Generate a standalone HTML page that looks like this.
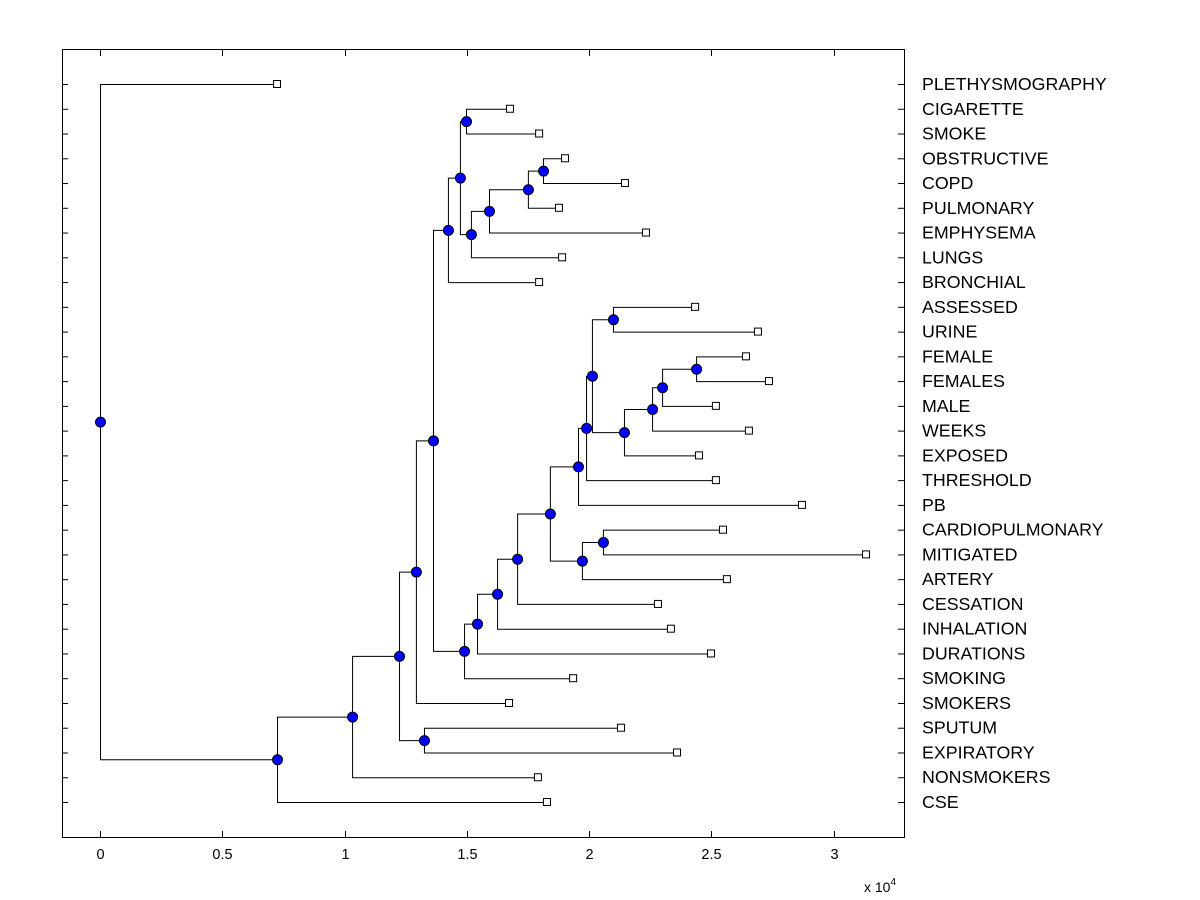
<!DOCTYPE html>
<html><head><meta charset="utf-8"><style>
html,body{margin:0;padding:0;background:#fff;}
svg{display:block;font-family:"Liberation Sans",Arial,sans-serif;}
</style></head><body>
<svg id="chart" width="1200" height="900" viewBox="0 0 1200 900" xmlns="http://www.w3.org/2000/svg">
<rect x="0" y="0" width="1200" height="900" fill="#fff"/>
<g id="links"></g>
<g id="marks"></g>
<rect x="62.5" y="49.5" width="842" height="788" fill="none" stroke="#000" stroke-width="1"/>
<g id="axes"></g>
<text x="864" y="892" font-size="14">x 10<tspan dy="-7" font-size="10">4</tspan></text>
</svg>
<script>
const leafNames = ["PLETHYSMOGRAPHY","CIGARETTE","SMOKE","OBSTRUCTIVE","COPD","PULMONARY","EMPHYSEMA","LUNGS","BRONCHIAL","ASSESSED","URINE","FEMALE","FEMALES","MALE","WEEKS","EXPOSED","THRESHOLD","PB","CARDIOPULMONARY","MITIGATED","ARTERY","CESSATION","INHALATION","DURATIONS","SMOKING","SMOKERS","SPUTUM","EXPIRATORY","NONSMOKERS","CSE"];
const leafValues = [0.724,1.677,1.796,1.902,2.147,1.877,2.233,1.890,1.796,2.434,2.691,2.642,2.736,2.519,2.654,2.450,2.519,2.871,2.548,3.133,2.564,2.282,2.335,2.499,1.935,1.673,2.131,2.360,1.791,1.828];
const nodeNames = ["root","A","B","C","D","E","F","G","I","J","K","L","M","N","H","O","P","Q","R","T","U","S","V","W","Y","X","Z","AA","BB"];
const nodeHeights = [0,0.724,1.031,1.223,1.292,1.325,1.362,1.423,1.472,1.497,1.517,1.591,1.750,1.812,1.489,1.542,1.624,1.706,1.840,1.971,2.057,1.955,1.988,2.012,2.098,2.143,2.258,2.299,2.438];
const nodeLeft = ["PLETHYSMOGRAPHY","B","C","D","F","SPUTUM","G","I","J","CIGARETTE","L","M","N","OBSTRUCTIVE","O","P","Q","R","S","U","CARDIOPULMONARY","V","W","Y","ASSESSED","Z","AA","BB","FEMALE"];
const nodeRight = ["A","CSE","NONSMOKERS","E","SMOKERS","EXPIRATORY","H","BRONCHIAL","K","SMOKE","LUNGS","EMPHYSEMA","PULMONARY","COPD","SMOKING","DURATIONS","INHALATION","CESSATION","T","ARTERY","MITIGATED","PB","THRESHOLD","X","URINE","EXPOSED","WEEKS","MALE","FEMALES"];
const xTicks = [0,0.5,1,1.5,2,2.5,3];
const xTickLabels = ["0","0.5","1","1.5","2","2.5","3"];

const NS="http://www.w3.org/2000/svg";
const X0=100, XS=244.5, Y0=84, YS=(802-84)/29;
function xs(v){return X0+v*XS;}
function ys(i){return Y0+i*YS;}
function mk(tag,attrs,parent){const e=document.createElementNS(NS,tag);for(const k in attrs)e.setAttribute(k,attrs[k]);parent.appendChild(e);return e;}
const links=document.getElementById('links'), marks=document.getElementById('marks'), axes=document.getElementById('axes');

const pos={};
leafNames.forEach((n,i)=>{pos[n]={x:xs(leafValues[i]),y:ys(i)};});
function resolve(name){
  if(pos[name])return pos[name];
  const k=nodeNames.indexOf(name);
  const a=resolve(nodeLeft[k]), b=resolve(nodeRight[k]);
  pos[name]={x:xs(nodeHeights[k]),y:(a.y+b.y)/2};
  return pos[name];
}
nodeNames.forEach(n=>resolve(n));

nodeNames.forEach((n,k)=>{
  const p=pos[n], a=pos[nodeLeft[k]], b=pos[nodeRight[k]];
  const path=mk('path',{d:`M${a.x},${a.y+0.5}H${p.x+0.5}V${b.y+0.5}H${b.x}`,fill:'none',stroke:'#000','stroke-width':1},links);
  
  
});
leafNames.forEach((n,i)=>{
  const p=pos[n];
  const r=mk('rect',{x:p.x-3.5,y:p.y-3.5,width:7,height:7,fill:'#fff',stroke:'#000','stroke-width':1},marks);
  
  
  const t=mk('text',{x:922,y:p.y+6,'font-size':17.8},axes);
  t.textContent=n;
  
  
  const tl=mk('line',{x1:62,x2:68,y1:p.y+0.5,y2:p.y+0.5,stroke:'#000'},axes);
  
  
  const tr=mk('line',{x1:898,x2:904,y1:p.y+0.5,y2:p.y+0.5,stroke:'#000'},axes);
  
  
});
nodeNames.forEach(n=>{
  const p=pos[n];
  const c=mk('circle',{cx:p.x+0.5,cy:p.y+0.5,r:5,fill:'#0000ff',stroke:'#000','stroke-width':1},marks);
  
  
});
xTicks.forEach((v,i)=>{
  const x=Math.round(xs(v))+0.5;
  const b=mk('line',{x1:x,x2:x,y1:831,y2:837,stroke:'#000'},axes);
  
  
  const t=mk('line',{x1:x,x2:x,y1:50,y2:56,stroke:'#000'},axes);
  
  
  const l=mk('text',{x:x,y:859,'font-size':14.5,'text-anchor':'middle'},axes);
  l.textContent=xTickLabels[i];
  
  
});
</script>
</body></html>
